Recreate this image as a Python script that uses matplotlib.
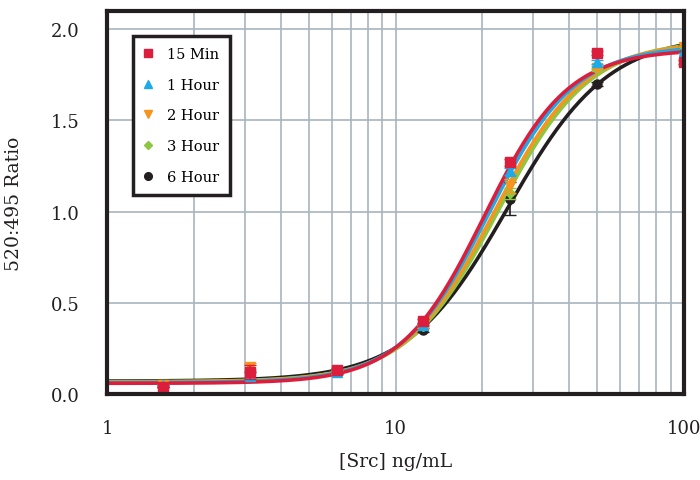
import numpy as np
import matplotlib.pyplot as plt
from matplotlib.ticker import FixedLocator, NullFormatter

plt.rcParams['font.family'] = ['DejaVu Serif']

# concentrations (ng/mL)
conc = [1.5625, 3.125, 6.25, 12.5, 25, 50, 100]

labels = ["15 Min", "1 Hour", "2 Hour", "3 Hour", "6 Hour"]
colors = ["#dc1e3c", "#1eaae6", "#f7941d", "#8dc63f", "#231f20"]
markers = ["s", "^", "v", "D", "o"]
msizes = [6.5, 6.5, 6.5, 5, 6.5]

ratio_15min = [0.04, 0.12, 0.13, 0.40, 1.27, 1.87, 1.82]
ratio_1h = [0.05, 0.10, 0.12, 0.38, 1.22, 1.82, 1.88]
ratio_2h = [0.05, 0.15, 0.12, 0.37, 1.14, 1.79, 1.90]
ratio_3h = [0.05, 0.10, 0.12, 0.37, 1.10, 1.78, 1.90]
ratio_6h = [0.04, 0.10, 0.12, 0.35, 1.07, 1.70, 1.90]

err_15min = [0.0, 0.04, 0.01, 0.01, 0.02, 0.01, 0.01]
err_1h = [0.0, 0.02, 0.01, 0.01, 0.02, 0.01, 0.01]
err_2h = [0.0, 0.02, 0.01, 0.01, 0.04, 0.01, 0.01]
err_3h = [0.0, 0.02, 0.01, 0.01, 0.03, 0.01, 0.01]
err_6h = [0.0, 0.02, 0.01, 0.01, 0.09, 0.01, 0.01]

# 4-parameter logistic fit parameters: bottom, top, EC50, hill
fit_15min = (0.058, 1.89, 20.3, 3.0)
fit_1h = (0.062, 1.91, 21.0, 2.9)
fit_2h = (0.065, 1.93, 22.0, 2.8)
fit_3h = (0.067, 1.94, 22.7, 2.75)
fit_6h = (0.07, 1.97, 24.5, 2.5)

ratios = [ratio_15min, ratio_1h, ratio_2h, ratio_3h, ratio_6h]
errs = [err_15min, err_1h, err_2h, err_3h, err_6h]
fits = [fit_15min, fit_1h, fit_2h, fit_3h, fit_6h]


def four_pl(x, bottom, top, ec50, hill):
    return bottom + (top - bottom) / (1 + (ec50 / x) ** hill)


fig = plt.figure(figsize=(7, 4.81), dpi=100)
ax = fig.add_axes([0.153, 0.179, 0.824, 0.796])

xs = np.logspace(0, 2, 300)
# draw in reverse so 15 Min sits on top
for i in reversed(range(5)):
    ax.plot(xs, four_pl(xs, *fits[i]), color=colors[i], lw=2.6, zorder=2 + (5 - i))
for i in reversed(range(5)):
    ax.errorbar(conc, ratios[i], yerr=errs[i], fmt=markers[i], color=colors[i],
                ms=msizes[i], capsize=4, elinewidth=1.2, zorder=10 + (5 - i),
                label=labels[i])

ax.set_xscale("log")
ax.set_xlim(1, 100)
ax.set_ylim(0, 2.1)
ax.set_yticks([0, 0.5, 1.0, 1.5, 2.0])
ax.set_yticklabels(["0.0", "0.5", "1.0", "1.5", "2.0"])
ax.set_xticks([1, 10, 100])
ax.set_xticklabels(["1", "10", "100"])
ax.xaxis.set_minor_locator(FixedLocator([k * d for d in (1, 10) for k in range(2, 10)]))
ax.xaxis.set_minor_formatter(NullFormatter())
ax.tick_params(axis="both", which="both", length=0, labelsize=13, colors="#231f20")
ax.tick_params(axis="x", pad=18)
ax.tick_params(axis="y", pad=20)

ax.grid(True, which="both", axis="x", color="#a9b4be", lw=1.2)
ax.grid(True, which="major", axis="y", color="#a9b4be", lw=1.2)
ax.set_axisbelow(True)
for s in ax.spines.values():
    s.set_linewidth(3)
    s.set_color("#231f20")
    s.set_zorder(30)

ax.set_xlabel("[Src] ng/mL", fontsize=13.5, labelpad=11, color="#231f20")
ax.set_ylabel("520:495 Ratio", fontsize=13.5, labelpad=20, color="#231f20")

handles, lbls = ax.get_legend_handles_labels()
order = [lbls.index(l) for l in labels]
handles = [handles[k][0] for k in order]
leg = ax.legend(handles, labels, loc="upper left", bbox_to_anchor=(0.045, 0.935),
                borderaxespad=0, fontsize=10.5, frameon=True, fancybox=False,
                framealpha=1, borderpad=0.75, labelspacing=1.15, handlelength=0.6,
                handletextpad=1.0, markerscale=0.85)
leg.get_frame().set_edgecolor("#231f20")
leg.get_frame().set_linewidth(2.5)
leg.set_zorder(40)

fig.savefig("out.png", dpi=100)
